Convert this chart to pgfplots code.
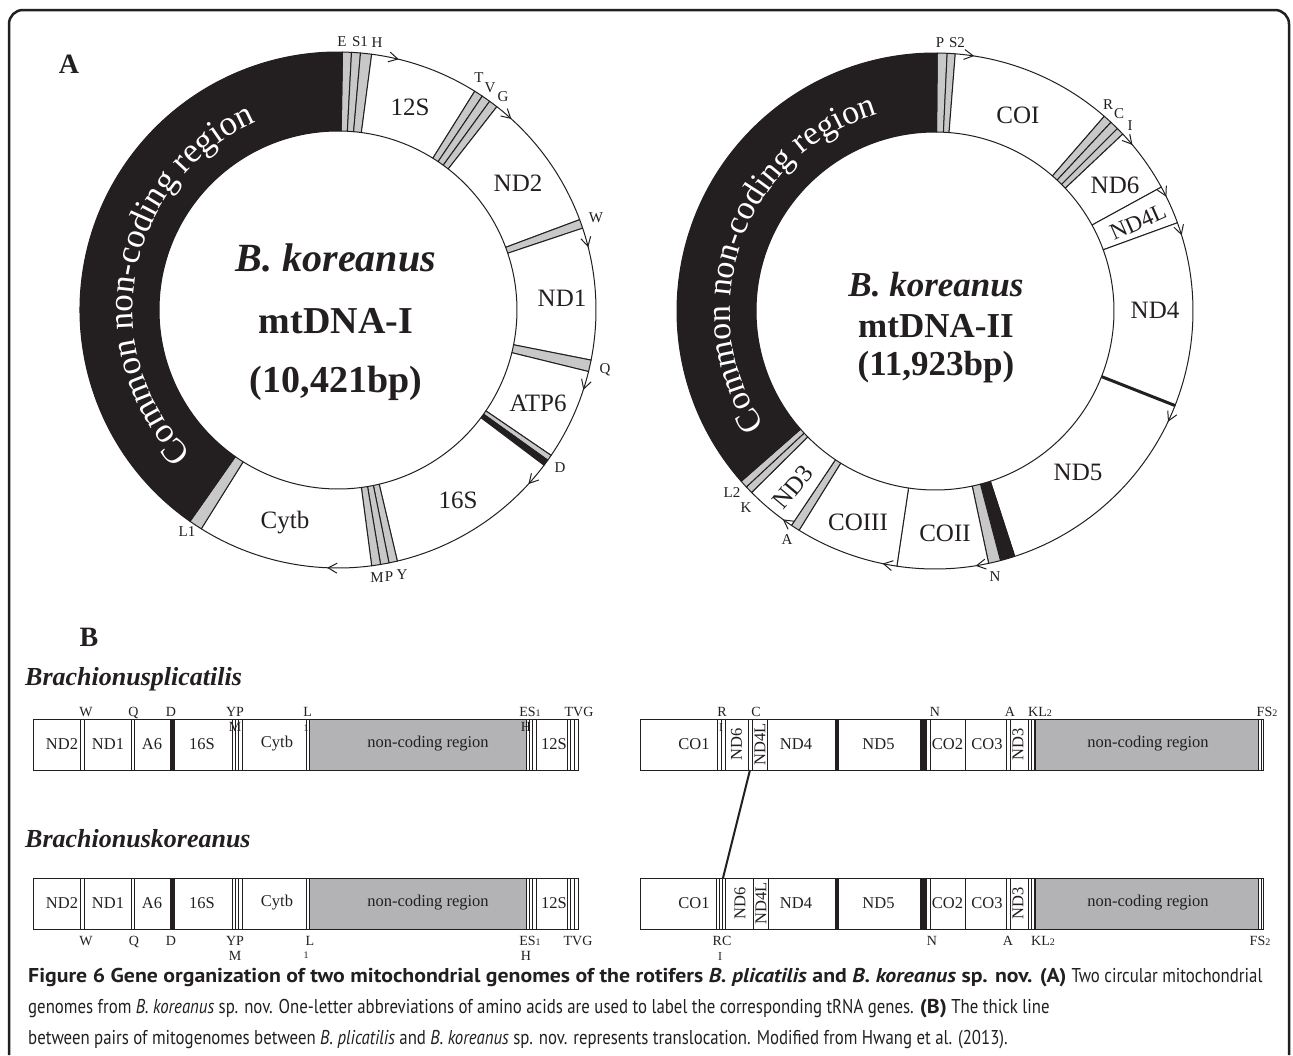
\documentclass[border=0pt]{standalone}
\usepackage{pgfplots}
\pgfplotsset{compat=1.18}
\usepackage{fontspec}
\setmainfont{Liberation Serif}
\newfontfamily\capR{PT Sans}[FakeStretch=0.84]
\newfontfamily\capB{PT Sans}[FakeStretch=1.09]
\usetikzlibrary{decorations.text}
\definecolor{ink}{HTML}{231F20}
\definecolor{bandgray}{HTML}{C8C8C8}
\definecolor{ncgray}{HTML}{B3B3B5}
% ring segment: cx cy a1 a2 fill
\newcommand{\seg}[5]{\filldraw[fill=#5,draw=ink,line width=1pt,line join=round]
 (axis cs:{#1+258*cos(#3)},{#2+258*sin(#3)}) arc[start angle=#3,end angle=#4,radius=258pt]
 -- (axis cs:{#1+179*cos(#4)},{#2+179*sin(#4)}) arc[start angle=#4,end angle=#3,radius=179pt] -- cycle;}
% arrow chevron on outer circle: cx cy theta
\newcommand{\arr}[3]{\draw[ink,line width=1pt]
 (axis cs:{#1+258*cos(#3)-9*sin(#3)+5*cos(#3)},{#2+258*sin(#3)+9*cos(#3)+5*sin(#3)})
 -- (axis cs:{#1+258*cos(#3)},{#2+258*sin(#3)})
 -- (axis cs:{#1+258*cos(#3)-9*sin(#3)-5*cos(#3)},{#2+258*sin(#3)+9*cos(#3)-5*sin(#3)});}
% text node: size x y(pixel, down) text
\newcommand{\lab}[4]{\node[font=\fontsize{#1}{#1}\selectfont,inner sep=0pt,text=ink] at (axis cs:#2,-#3) {#4};}
\newcommand{\blab}[4]{\node[font=\fontsize{#1}{#1}\selectfont,inner sep=0pt,anchor=base,text=ink] at (axis cs:#2,-#3) {#4};}
% linear map helpers
\newcommand{\vl}[3]{\draw[ink,line width=0.9pt] (axis cs:#1,-#2) -- (axis cs:#1,-#3);}
\newcommand{\rect}[5]{\filldraw[fill=#5,draw=ink,line width=0.9pt] (axis cs:#1,-#3) rectangle (axis cs:#2,-#4);}
\newcommand{\sub}[1]{{\fontsize{10}{10}\selectfont #1}}
\begin{document}
\begin{tikzpicture}
\begin{axis}[x=1pt,y=1pt,xmin=0,xmax=1293,ymin=-1055,ymax=0,hide axis,clip=false,
  disabledatascaling,scale only axis,anchor=south west,at={(0,0)}]
\fill[white] (axis cs:0,0) rectangle (axis cs:1293,-1055);
% frame
\draw[ink,line width=2.5pt,rounded corners=14pt] (axis cs:9,-1055) -- (axis cs:9,-10) -- (axis cs:1289,-10) -- (axis cs:1289,-1055);
% ================= circle I =================
\seg{338}{-310}{89}{87}{bandgray}
\seg{338}{-310}{87}{85}{bandgray}
\seg{338}{-310}{85}{82.5}{bandgray}
\seg{338}{-310}{82.5}{58}{white}
\seg{338}{-310}{58}{56}{bandgray}
\seg{338}{-310}{56}{54}{bandgray}
\seg{338}{-310}{54}{52}{bandgray}
\seg{338}{-310}{52}{20.5}{white}
\seg{338}{-310}{20.5}{18.5}{bandgray}
\seg{338}{-310}{18.5}{-11.2}{white}
\seg{338}{-310}{-11.2}{-13.8}{bandgray}
\seg{338}{-310}{-13.8}{-34.3}{white}
\seg{338}{-310}{-34.3}{-35.6}{bandgray}
\seg{338}{-310}{-35.6}{-37}{ink}
\seg{338}{-310}{-37}{-76.7}{white}
\seg{338}{-310}{-76.7}{-78.6}{bandgray}
\seg{338}{-310}{-78.6}{-80.5}{bandgray}
\seg{338}{-310}{-80.5}{-82.5}{bandgray}
\seg{338}{-310}{-82.5}{-122}{white}
\seg{338}{-310}{-122}{-125}{bandgray}
\seg{338}{-310}{-125}{-271}{ink}
\arr{338}{-310}{76.6}
\arr{338}{-310}{48}
\arr{338}{-310}{14.3}
\arr{338}{-310}{-17.8}
\arr{338}{-310}{-42.2}
\arr{338}{-310}{-92.2}
\path[decorate,decoration={text along path,text align=center,text={|\fontsize{35}{35}\selectfont\color{white}|Common non-coding region}}]
 (axis cs:{338+205*cos(239)},{-310+205*sin(239)}) arc[start angle=239,end angle=99,radius=205pt];
\lab{25}{410}{107}{12S}
\lab{25}{518}{183}{ND2}
\lab{25}{562}{298}{ND1}
\lab{25}{538}{403}{ATP6}
\lab{25}{458}{500}{16S}
\lab{25}{285}{523}{Cytb}
\lab{15}{342}{42}{E}
\lab{15}{360}{42}{S1}
\lab{15}{377}{43}{H}
\lab{15}{479}{78}{T}
\lab{15}{490}{88}{V}
\lab{15}{503}{97}{G}
\lab{15}{596}{218}{W}
\lab{15}{605}{370}{Q}
\lab{15}{560}{468}{D}
\lab{15}{187}{532}{L1}
\lab{15}{377}{578}{M}
\lab{15}{389}{577}{P}
\lab{15}{402}{575}{Y}
\node[font=\fontsize{40}{40}\selectfont\bfseries\itshape,text=ink] at (axis cs:336,-258) {B. koreanus};
\node[font=\fontsize{38}{38}\selectfont\bfseries,text=ink] at (axis cs:336,-321) {mtDNA-I};
\node[font=\fontsize{38}{38}\selectfont\bfseries,text=ink] at (axis cs:336,-383) {(10,421bp)};
% ================= circle II =================
\seg{935}{-311}{89.5}{87.3}{bandgray}
\seg{935}{-311}{87.3}{85.5}{bandgray}
\seg{935}{-311}{85.5}{49}{white}
\seg{935}{-311}{49}{47}{bandgray}
\seg{935}{-311}{47}{45}{bandgray}
\seg{935}{-311}{45}{43.3}{bandgray}
\seg{935}{-311}{43.3}{28.7}{white}
\seg{935}{-311}{28.7}{20}{white}
\seg{935}{-311}{20}{-21.5}{white}
\seg{935}{-311}{-21.5}{-72}{white}
\seg{935}{-311}{-72}{-75.3}{ink}
\seg{935}{-311}{-75.3}{-78}{bandgray}
\seg{935}{-311}{-78}{-98.5}{white}
\seg{935}{-311}{-98.5}{-121.8}{white}
\seg{935}{-311}{-121.8}{-123.8}{bandgray}
\seg{935}{-311}{-123.8}{-135.3}{white}
\seg{935}{-311}{-135.3}{-137}{bandgray}
\seg{935}{-311}{-137}{-138.7}{bandgray}
\seg{935}{-311}{-138.7}{-270.5}{ink}
\draw[ink,line width=3pt] (axis cs:{935+179*cos(-21.5)},{-311+179*sin(-21.5)}) -- (axis cs:{935+258*cos(-21.5)},{-311+258*sin(-21.5)});
\arr{935}{-311}{81.5}
\arr{935}{-311}{40.3}
\arr{935}{-311}{26.5}
\arr{935}{-311}{17.3}
\arr{935}{-311}{-25.2}
\arr{935}{-311}{-80.7}
\arr{935}{-311}{-101.5}
\arr{935}{-311}{-125.9}
\path[decorate,decoration={text along path,text align=center,text={|\fontsize{34}{34}\selectfont\color{white}|Common non-coding region}}]
 (axis cs:{935+205*cos(230)},{-311+205*sin(230)}) arc[start angle=230,end angle=90,radius=205pt];
\lab{25}{1018}{115}{COI}
\lab{25}{1115}{185}{ND6}
\node[font=\fontsize{23}{23}\selectfont,inner sep=0pt,rotate=24,text=ink] at (axis cs:1138,-222) {ND4L};
\lab{25}{1155}{310}{ND4}
\lab{25}{1078}{472}{ND5}
\lab{25}{945}{533}{COII}
\lab{25}{858}{522}{COIII}
\node[font=\fontsize{25}{25}\selectfont,inner sep=0pt,rotate=50,text=ink] at (axis cs:793,-487) {ND3};
\lab{15}{940}{43}{P}
\lab{15}{957}{43}{S2}
\lab{15}{1108}{105}{R}
\lab{15}{1119}{114}{C}
\lab{15}{1130}{126}{I}
\lab{15}{732}{493}{L2}
\lab{15}{746}{508}{K}
\lab{15}{787}{540}{A}
\lab{15}{995}{577}{N}
\node[font=\fontsize{35}{35}\selectfont\bfseries\itshape,text=ink] at (axis cs:936,-285) {B. koreanus};
\node[font=\fontsize{35}{35}\selectfont\bfseries,text=ink] at (axis cs:936,-326) {mtDNA-II};
\node[font=\fontsize{35}{35}\selectfont\bfseries,text=ink] at (axis cs:936,-367) {(11,923bp)};
% panel labels
\node[font=\fontsize{28}{28}\selectfont\bfseries,text=ink] at (axis cs:69,-64) {A};
\node[font=\fontsize{28}{28}\selectfont\bfseries,text=ink] at (axis cs:89,-637) {B};
% ================= linear maps =================
\node[font=\fontsize{26}{26}\selectfont\bfseries\itshape,anchor=west,inner sep=0pt,text=ink] at (axis cs:25,-679) {Brachionusplicatilis};
\node[font=\fontsize{26}{26}\selectfont\bfseries\itshape,anchor=west,inner sep=0pt,text=ink] at (axis cs:25,-839) {Brachionuskoreanus};
% --- top left
\rect{33}{578}{719}{770}{white}
\rect{309}{526}{719}{770}{ncgray}
\rect{170}{174.5}{719}{770}{ink}
\vl{80}{719}{770}\vl{84}{719}{770}\vl{131}{719}{770}\vl{134.5}{719}{770}
\vl{232}{719}{770}\vl{235}{719}{770}\vl{238}{719}{770}\vl{242}{719}{770}
\vl{306}{719}{770}\vl{309}{719}{770}\vl{526}{719}{770}\vl{529}{719}{770}
\vl{532}{719}{770}\vl{536}{719}{770}\vl{567}{719}{770}\vl{570.5}{719}{770}\vl{574}{719}{770}
\lab{16.5}{62}{744}{ND2}
\lab{16.5}{108}{744}{ND1}
\lab{16.5}{152}{744}{A6}
\lab{16.5}{202}{744}{16S}
\lab{16.5}{277}{744}{Cytb}
\lab{16.5}{428}{744}{non-coding region}
\lab{16.5}{554}{744}{12S}
\blab{14}{86}{716}{W}
\blab{14}{133.5}{716}{Q}
\blab{14}{171}{716}{D}
\blab{14}{235}{716}{YP}
\blab{14}{307.6}{716}{L}
\blab{14}{530}{716}{ES\sub{1}}
\blab{14}{579}{716}{TVG}
\blab{14}{235}{731}{M}
\blab{10}{306}{731}{1}
\blab{14}{526}{731}{H}
% --- top right
\rect{640}{1263}{719}{770}{white}
\rect{1035}{1258}{719}{770}{ncgray}
\rect{835.5}{838.5}{719}{770}{ink}
\rect{920}{926}{719}{770}{ink}
\vl{717}{719}{770}\vl{721}{719}{770}\vl{725}{719}{770}\vl{748}{719}{770}\vl{752}{719}{770}
\vl{767.6}{719}{770}\vl{930}{719}{770}\vl{965.5}{719}{770}\vl{1006}{719}{770}\vl{1010}{719}{770}
\vl{1028}{719}{770}\vl{1031}{719}{770}\vl{1034}{719}{770}\vl{1258}{719}{770}\vl{1261}{719}{770}
\lab{16.5}{694}{744}{CO1}
\node[font=\fontsize{16.5}{16.5}\selectfont,rotate=90,inner sep=0pt,text=ink] at (axis cs:736.5,-744) {ND6};
\node[font=\fontsize{16.5}{16.5}\selectfont,rotate=90,inner sep=0pt,text=ink] at (axis cs:760,-744) {ND4L};
\lab{16.5}{796}{744}{ND4}
\lab{16.5}{878.5}{744}{ND5}
\lab{16.5}{947.5}{744}{CO2}
\lab{16.5}{987}{744}{CO3}
\node[font=\fontsize{16.5}{16.5}\selectfont,rotate=90,inner sep=0pt,text=ink] at (axis cs:1018,-744) {ND3};
\lab{16.5}{1148}{744}{non-coding region}
\blab{14}{722}{716}{R}
\blab{14}{756}{716}{C}
\blab{14}{935}{716}{N}
\blab{14}{1010}{716}{A}
\blab{14}{1040}{716}{KL\sub{2}}
\blab{14}{1267}{716}{FS\sub{2}}
\blab{12}{721}{731}{I}
% translocation line
\draw[ink,line width=2pt] (axis cs:750,-770) -- (axis cs:723,-878);
% --- bottom left
\rect{33}{578}{878}{929}{white}
\rect{309}{526}{878}{929}{ncgray}
\rect{170}{174.5}{878}{929}{ink}
\vl{80}{878}{929}\vl{84}{878}{929}\vl{131}{878}{929}\vl{134.5}{878}{929}
\vl{232}{878}{929}\vl{235}{878}{929}\vl{238}{878}{929}\vl{242}{878}{929}
\vl{306}{878}{929}\vl{309}{878}{929}\vl{526}{878}{929}\vl{529}{878}{929}
\vl{532}{878}{929}\vl{536}{878}{929}\vl{567}{878}{929}\vl{570.5}{878}{929}\vl{574}{878}{929}
\lab{16.5}{62}{903}{ND2}
\lab{16.5}{108}{903}{ND1}
\lab{16.5}{152}{903}{A6}
\lab{16.5}{202}{903}{16S}
\lab{16.5}{277}{903}{Cytb}
\lab{16.5}{428}{903}{non-coding region}
\lab{16.5}{554}{903}{12S}
\blab{14}{86}{945}{W}
\blab{14}{134}{945}{Q}
\blab{14}{171}{945}{D}
\blab{14}{235}{945}{YP}
\blab{14}{310}{945}{L}
\blab{14}{530}{945}{ES\sub{1}}
\blab{14}{578}{945}{TVG}
\blab{14}{235}{960}{M}
\blab{10}{306}{958}{1}
\blab{14}{526}{960}{H}
% --- bottom right
\rect{640}{1263}{878}{929}{white}
\rect{1035}{1258}{878}{929}{ncgray}
\rect{835.5}{838.5}{878}{929}{ink}
\rect{920}{926}{878}{929}{ink}
\vl{716.6}{878}{929}\vl{719.6}{878}{929}\vl{722.8}{878}{929}\vl{725.8}{878}{929}
\vl{753}{878}{929}\vl{768.5}{878}{929}\vl{930}{878}{929}\vl{965.5}{878}{929}
\vl{1006}{878}{929}\vl{1010}{878}{929}\vl{1028}{878}{929}\vl{1031}{878}{929}\vl{1034}{878}{929}
\vl{1258}{878}{929}\vl{1261}{878}{929}
\lab{16.5}{694}{903}{CO1}
\node[font=\fontsize{16.5}{16.5}\selectfont,rotate=90,inner sep=0pt,text=ink] at (axis cs:740,-903) {ND6};
\node[font=\fontsize{16.5}{16.5}\selectfont,rotate=90,inner sep=0pt,text=ink] at (axis cs:761,-903) {ND4L};
\lab{16.5}{796}{903}{ND4}
\lab{16.5}{878.5}{903}{ND5}
\lab{16.5}{947.5}{903}{CO2}
\lab{16.5}{987}{903}{CO3}
\node[font=\fontsize{16.5}{16.5}\selectfont,rotate=90,inner sep=0pt,text=ink] at (axis cs:1018,-903) {ND3};
\lab{16.5}{1148}{903}{non-coding region}
\blab{14}{722}{945}{RC}
\blab{12}{720}{960}{I}
\blab{14}{932}{945}{N}
\blab{14}{1008}{945}{A}
\blab{14}{1043}{945}{KL\sub{2}}
\blab{14}{1260}{945}{FS\sub{2}}
% ================= caption =================
\node[anchor=base west,inner sep=0pt,text=ink,font=\fontsize{20}{20}\selectfont] at (axis cs:28,-982)
 {{\capB\bfseries Figure 6 Gene organization of two mitochondrial genomes of the rotifers \textit{B. plicatilis} and \textit{B. koreanus} sp. nov. (A)} {\capR Two circular mitochondrial}};
\node[anchor=base west,inner sep=0pt,text=ink,font=\capR\fontsize{20}{20}\selectfont] at (axis cs:28,-1013)
 {genomes from \textit{B. koreanus} sp. nov. One-letter abbreviations of amino acids are used to label the corresponding tRNA genes. {\capB\bfseries (B)} The thick line};
\node[anchor=base west,inner sep=0pt,text=ink,font=\capR\fontsize{20}{20}\selectfont] at (axis cs:28,-1044)
 {between pairs of mitogenomes between \textit{B. plicatilis} and \textit{B. koreanus} sp. nov. represents translocation. Modified from Hwang et al. (2013).};
\end{axis}
\pgfresetboundingbox
\useasboundingbox (0,0) rectangle (1293pt,1055pt);
\end{tikzpicture}
\end{document}
